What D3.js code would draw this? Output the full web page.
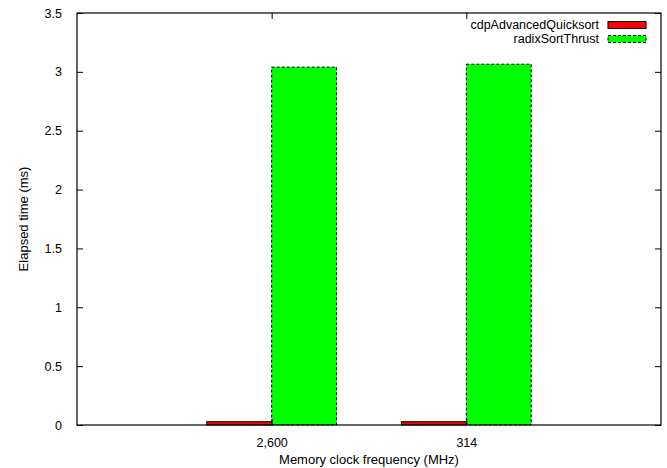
<!DOCTYPE html>
<html>
<head>
<meta charset="utf-8">
<script src="https://cdn.jsdelivr.net/npm/d3@7"></script>
<style>
  body { margin: 0; background: #fff; }
  text { font-family: "Liberation Sans", Arial, sans-serif; font-size: 12.5px; fill: #000; }
</style>
</head>
<body>
<div id="chart"></div>
<script>
// chart data
const categories = ["2,600", "314"]
const seriesNames = ["cdpAdvancedQuicksort", "radixSortThrust"]
const quicksortValues = [0.028, 0.028]
const thrustValues = [3.04, 3.065]
const yTicks = [0, 0.5, 1, 1.5, 2, 2.5, 3, 3.5]

const width = 667, height = 468
const margin = ({top: 13, right: 6, bottom: 43, left: 77})

const svg = d3.select("#chart").append("svg")
    .attr("width", width)
    .attr("height", height)

// gnuplot style: categories sit at 0, 1 on a [-1, 2] range
const x = d3.scaleLinear()
    .domain([-1, categories.length])
    .range([margin.left, width - margin.right])

const y = d3.scaleLinear()
    .domain([0, 3.5])
    .range([height - margin.bottom, margin.top])

const barW = 1 / 3
const series = [
    {name: seriesNames[0], values: quicksortValues, fill: "#ff0000", dash: null, offset: -barW},
    {name: seriesNames[1], values: thrustValues, fill: "#00ff00", dash: "3,2", offset: 0}
]

// bars
series.forEach(s => {
    svg.append("g")
      .selectAll("rect")
      .data(s.values)
      .enter().append("rect")
        .attr("x", (d, i) => x(i + s.offset))
        .attr("y", d => y(d))
        .attr("width", x(barW) - x(0))
        .attr("height", d => y(0) - y(d))
        .attr("fill", s.fill)
        .attr("stroke", "#000")
        .attr("stroke-width", 1)
        .attr("stroke-dasharray", s.dash)
})

// axes (ticks inward, mirrored)
const tick = 6
svg.append("g")
    .attr("transform", `translate(${margin.left},0)`)
    .call(d3.axisLeft(y).tickValues(yTicks).tickSize(-tick).tickPadding(tick + 9)
        .tickFormat(d3.format("")))
    .call(g => g.select(".domain").remove())
svg.append("g")
    .attr("transform", `translate(${width - margin.right},0)`)
    .call(d3.axisRight(y).tickValues(yTicks).tickSize(-tick).tickFormat(""))
    .call(g => g.select(".domain").remove())
svg.append("g")
    .attr("transform", `translate(0,${height - margin.bottom})`)
    .call(d3.axisBottom(x).tickValues(d3.range(categories.length)).tickSize(-tick)
        .tickPadding(tick + 7).tickFormat(i => categories[i]))
    .call(g => g.select(".domain").remove())
svg.append("g")
    .attr("transform", `translate(0,${margin.top})`)
    .call(d3.axisTop(x).tickValues(d3.range(categories.length)).tickSize(-tick).tickFormat(""))
    .call(g => g.select(".domain").remove())

svg.selectAll(".tick line").attr("stroke", "#000")
svg.selectAll(".tick text")
    .style("font-family", '"Liberation Sans", Arial, sans-serif')
    .style("font-size", "12.5px")
    .attr("fill", "#000")

// frame
svg.append("rect")
    .attr("x", margin.left)
    .attr("y", margin.top)
    .attr("width", width - margin.left - margin.right)
    .attr("height", height - margin.top - margin.bottom)
    .attr("fill", "none")
    .attr("stroke", "#000")
    .attr("stroke-width", 1.2)

// axis titles
svg.append("text")
    .attr("x", (margin.left + width - margin.right) / 2)
    .attr("y", 464)
    .attr("text-anchor", "middle")
    .style("font-size", "13px")
    .text("Memory clock frequency (MHz)")
svg.append("text")
    .attr("transform", `translate(28,${(margin.top + height - margin.bottom) / 2}) rotate(-90)`)
    .attr("text-anchor", "middle")
    .style("font-size", "13px")
    .text("Elapsed time (ms)")

// legend
const legend = svg.append("g")
    .selectAll("g")
    .data(series)
    .enter().append("g")
        .attr("transform", (d, i) => `translate(0,${25 + i * 14})`)
legend.append("text")
    .attr("x", 599)
    .attr("dy", "0.35em")
    .attr("text-anchor", "end")
    .text(d => d.name)
legend.append("rect")
    .attr("x", 608)
    .attr("y", -3.5)
    .attr("width", 38)
    .attr("height", 7)
    .attr("fill", d => d.fill)
    .attr("stroke", "#000")
    .attr("stroke-dasharray", d => d.dash)
</script>
</body>
</html>
